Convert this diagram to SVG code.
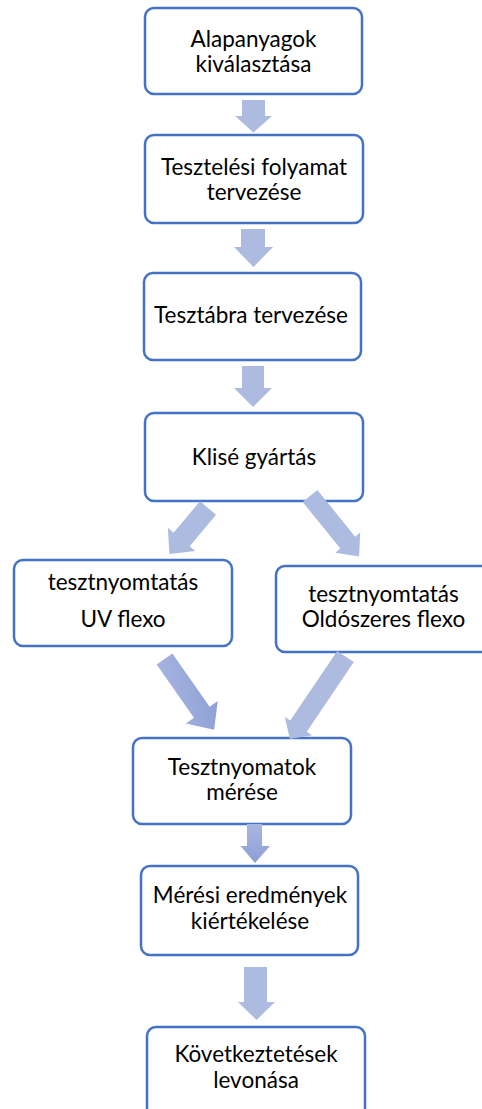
<svg xmlns="http://www.w3.org/2000/svg" width="482" height="1109" viewBox="0 0 482 1109">
<style>
.box{fill:#ffffff;stroke:#4472c4;stroke-width:2.5}
.t{font-family:Lato,"Noto Sans",sans-serif;font-size:22.5px;fill:#000000;text-anchor:middle}
.arr{fill:#aebbe0}
.arrg{fill:url(#g1)}
</style>
<defs>
<linearGradient id="g1" x1="0" y1="0" x2="0" y2="1">
<stop offset="0" stop-color="#a9b6df"/>
<stop offset="1" stop-color="#8d9fd6"/>
</linearGradient>
<linearGradient id="g2" x1="0" y1="0" x2="1" y2="1">
<stop offset="0" stop-color="#aab7e0"/>
<stop offset="1" stop-color="#8a9dd5"/>
</linearGradient>
</defs>
<g id="n1"><rect class="box" x="145" y="8" width="217" height="86" rx="9"/><text class="t" x="253.5" y="47">Alapanyagok</text><text class="t" x="253.5" y="72">kiválasztása</text></g>
<g id="n2"><rect class="box" x="145" y="135" width="218" height="88" rx="9"/><text class="t" x="254" y="175">Tesztelési folyamat</text><text class="t" x="254" y="200">tervezése</text></g>
<g id="n3"><rect class="box" x="144" y="273" width="217" height="87" rx="9"/><text class="t" x="251" y="323">Tesztábra tervezése</text></g>
<g id="n4"><rect class="box" x="145" y="413" width="218" height="88" rx="9"/><text class="t" x="254" y="465">Klisé gyártás</text></g>
<g id="n5"><rect class="box" x="14" y="560" width="218" height="86" rx="9"/><text class="t" x="123" y="590">tesztnyomtatás</text><text class="t" x="123" y="627">UV flexo</text></g>
<g id="n6"><rect class="box" x="276" y="566" width="220" height="86" rx="9"/><text class="t" x="383.5" y="602">tesztnyomtatás</text><text class="t" x="383.5" y="627">Oldószeres flexo</text></g>
<g id="n7"><rect class="box" x="133" y="738" width="218" height="86" rx="9"/><text class="t" x="242" y="775">Tesztnyomatok</text><text class="t" x="242" y="800">mérése</text></g>
<g id="n8"><rect class="box" x="141" y="866" width="217" height="89" rx="9"/><text class="t" x="250" y="903">Mérési eredmények</text><text class="t" x="250" y="929">kiértékelése</text></g>
<g id="n9"><rect class="box" x="147" y="1027" width="218" height="95" rx="9"/><text class="t" x="256" y="1062">Következtetések</text><text class="t" x="256" y="1088">levonása</text></g>
<g id="connectors">
<polygon class="arr" points="242,100 265,100 265,116 272,116 253.5,132.5 235,116 242,116"/>
<polygon class="arr" points="241,229 265,229 265,247 273,247 253.5,267 234,247 241,247"/>
<polygon class="arr" points="242,366 264,366 264,388 272,388 253,407 234,388 242,388"/>
<polygon class="arr" transform="translate(208,508) rotate(40)" points="-10.5,0 10.5,0 10.5,41 18,41 0,60 -18,41 -10.5,41"/>
<polygon class="arr" transform="translate(310,496) rotate(-39)" points="-9.5,0 9.5,0 9.5,60 16,60 0,78 -16,60 -9.5,60"/>
<polygon fill="url(#g2)" transform="translate(164.5,659) rotate(-35)" points="-9.6,0 9.6,0 9.6,65 19.5,65 0,86.5 -19.5,65 -9.6,65"/>
<polygon class="arr" transform="translate(345.5,656.5) rotate(34)" points="-10,0 10,0 10,84 16.5,84 0,99.5 -16.5,84 -10,84"/>
<polygon class="arrg" points="247,824 262,824 262,846 270,846 255,863 240.5,846 247,846"/>
<polygon class="arr" points="244,967 267,967 267,1002 275,1002 256.5,1020 238,1002 244,1002"/>
</g>
</svg>
